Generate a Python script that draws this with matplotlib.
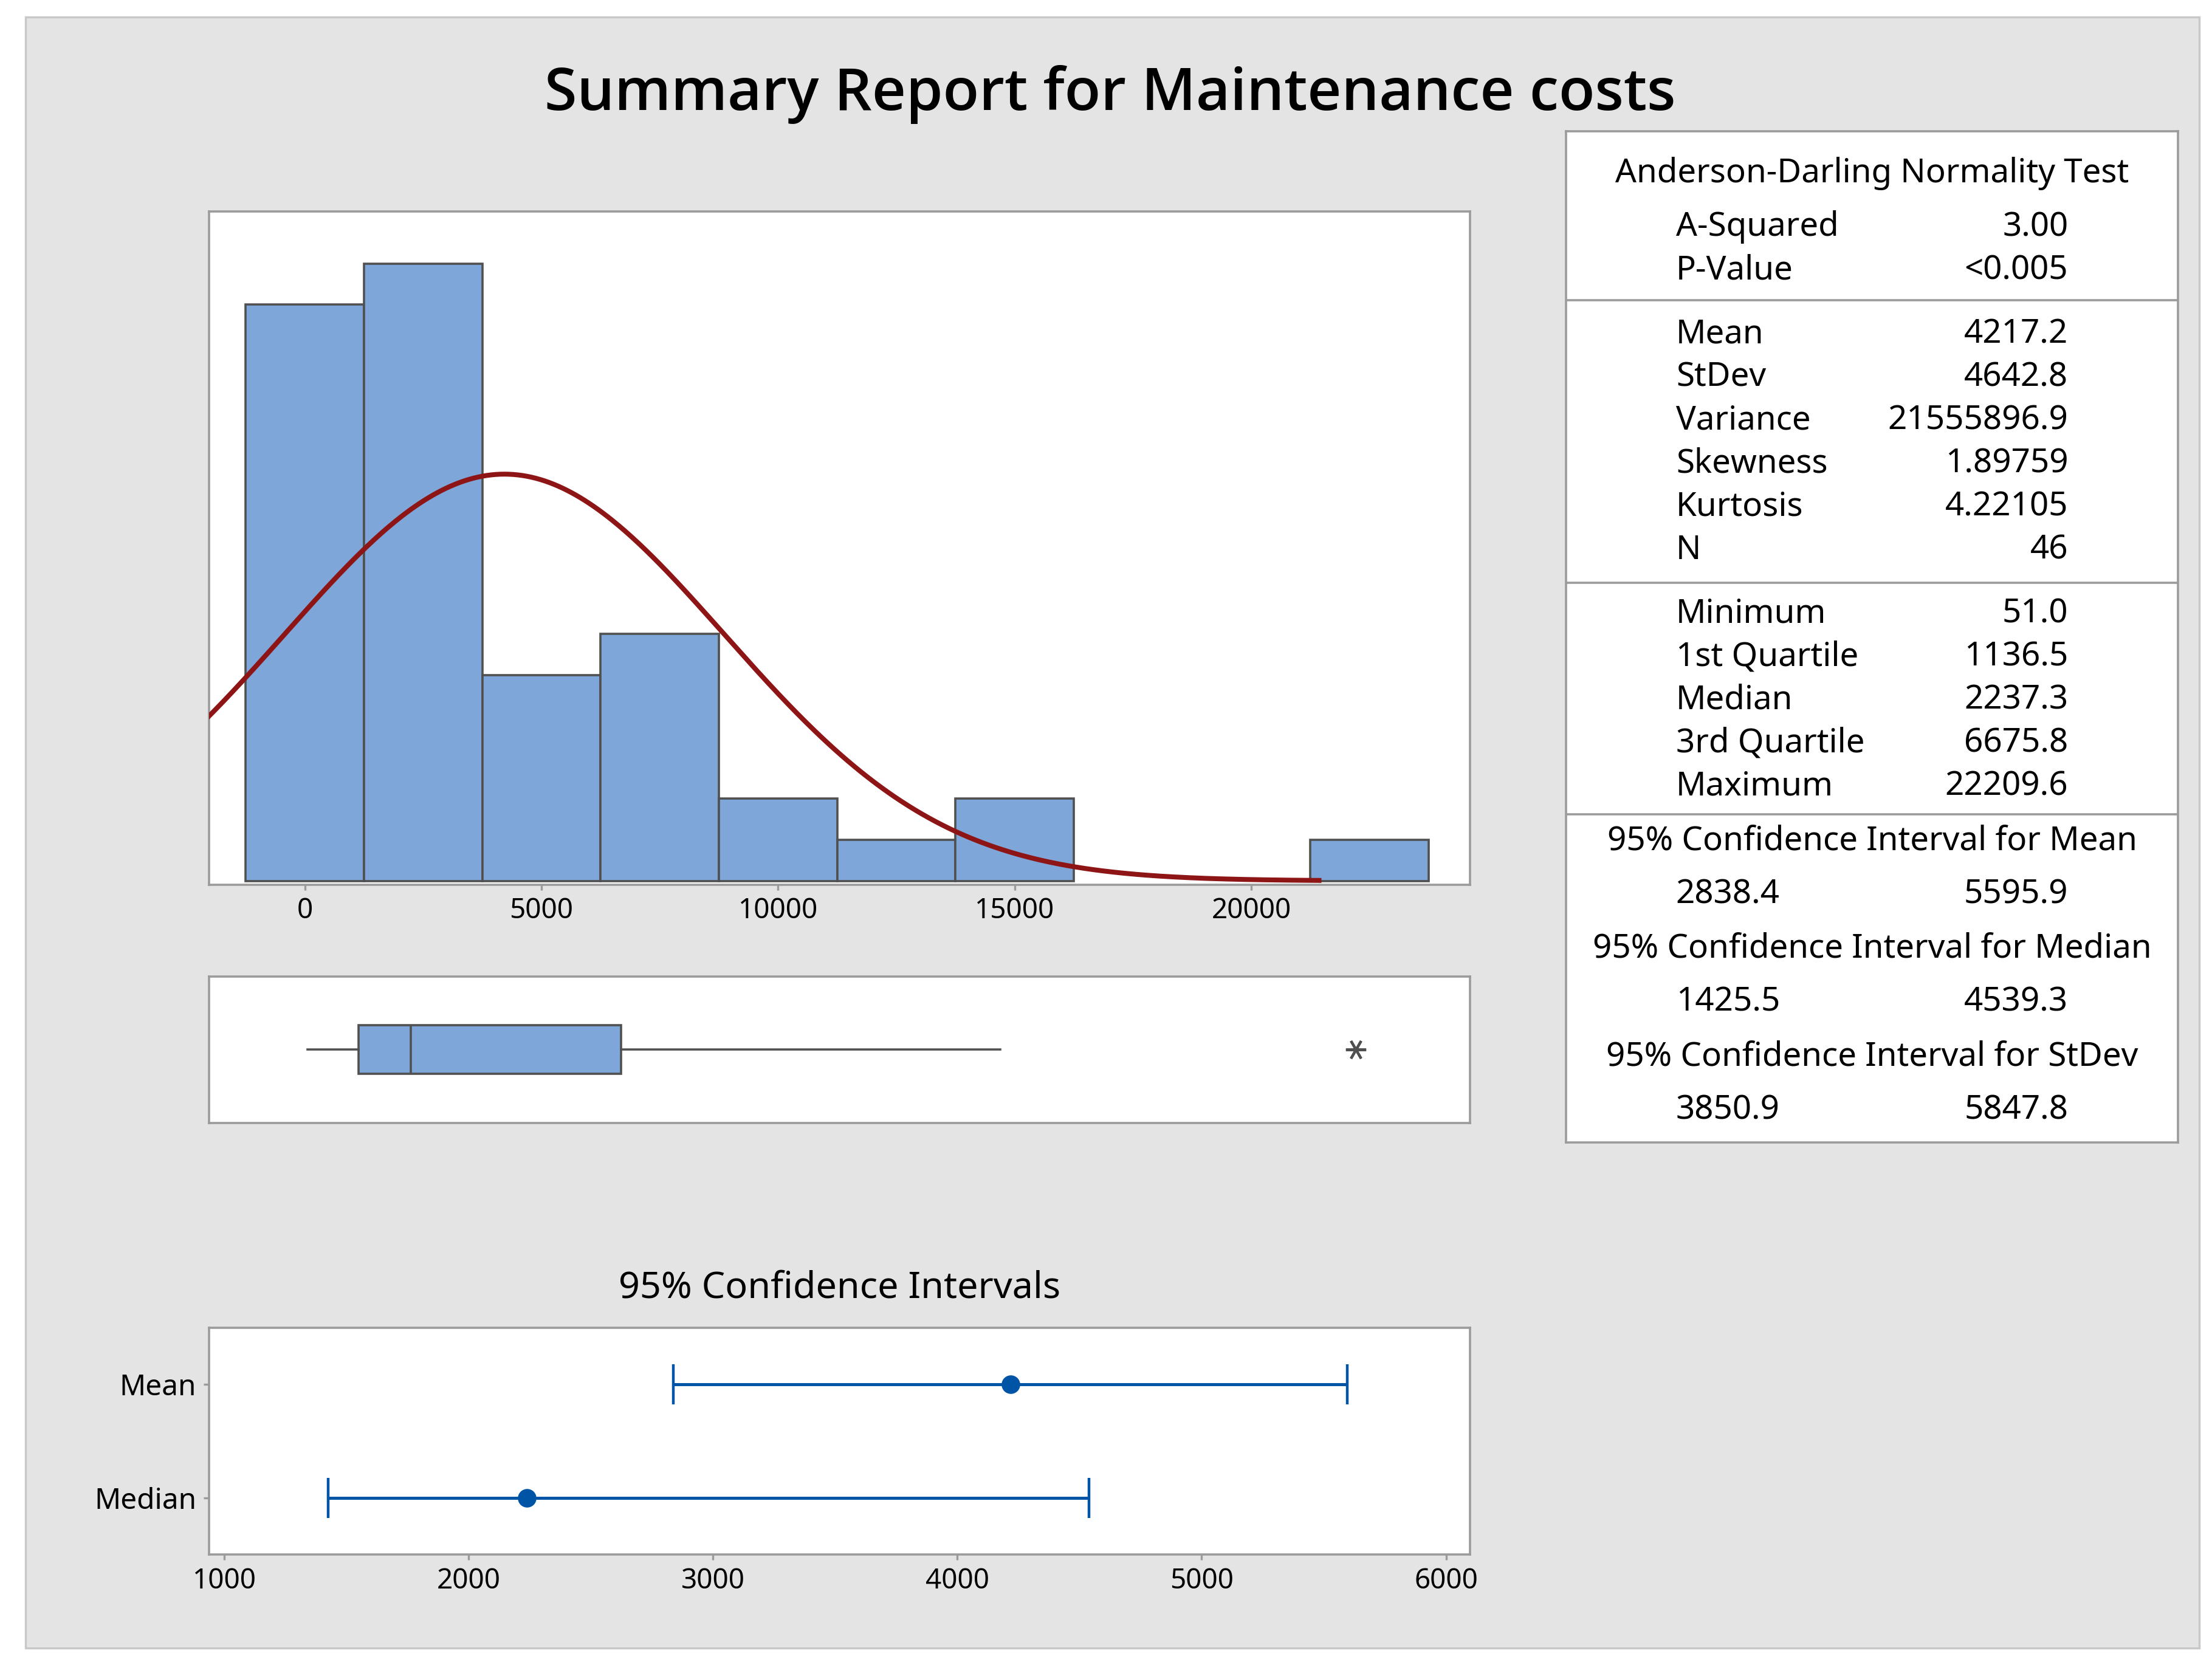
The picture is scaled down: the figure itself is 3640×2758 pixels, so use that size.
import matplotlib.pyplot as plt
import numpy as np
from matplotlib.patches import Rectangle

plt.rcParams['font.family'] = ['Noto Sans', 'DejaVu Sans']

# Data ##############################################################################

bin_centers = [0, 2500, 5000, 7500, 10000, 12500, 15000, 17500, 20000, 22500]
bin_counts = [14, 15, 5, 6, 2, 1, 2, 0, 0, 1]
bin_width = 2500
hist_ticks = [0, 5000, 10000, 15000, 20000]

mean, stdev, n = 4217.2, 4642.8, 46
minimum, q1, median, q3, maximum = 51.0, 1136.5, 2237.3, 6675.8, 22209.6
upper_whisker = 14700

ci_labels = ['Median', 'Mean']
ci_centers = [median, mean]
ci_low = [1425.5, 2838.4]
ci_high = [4539.3, 5595.9]
ci_ticks = [1000, 2000, 3000, 4000, 5000, 6000]

ad_title = 'Anderson-Darling Normality Test'
ad_rows = [('A-Squared', '3.00'), ('P-Value', '<0.005')]
moment_rows = [('Mean', '4217.2'), ('StDev', '4642.8'), ('Variance', '21555896.9'),
               ('Skewness', '1.89759'), ('Kurtosis', '4.22105'), ('N', '46')]
quantile_rows = [('Minimum', '51.0'), ('1st Quartile', '1136.5'), ('Median', '2237.3'),
                 ('3rd Quartile', '6675.8'), ('Maximum', '22209.6')]
ci_rows = [('95% Confidence Interval for Mean', '2838.4', '5595.9'),
           ('95% Confidence Interval for Median', '1425.5', '4539.3'),
           ('95% Confidence Interval for StDev', '3850.9', '5847.8')]

# Layout (positions in a 1568 x 1188 reference frame) ################################

RW, RH = 1568.0, 1188.0
SPINE = '#9B9B9B'
BAR = '#7EA6D8'
EDGE = '#505050'
BLUE = '#0054A6'
CURVE = '#8E1515'


def rect(left, top, right, bottom):
    return [left / RW, 1 - bottom / RH, (right - left) / RW, (bottom - top) / RH]


def style_spines(ax):
    for s in ax.spines.values():
        s.set_color(SPINE)
        s.set_linewidth(1.3)


fig = plt.figure(figsize=(18.2, 13.79), dpi=200, facecolor='white')

# grey panel behind everything
fig.patches.append(Rectangle((18 / RW, 1 - 1168 / RH), (1559 - 18) / RW, (1168 - 12) / RH,
                             transform=fig.transFigure, facecolor='#E4E4E4',
                             edgecolor='#C8C8C8', linewidth=1.2, zorder=-10))

fig.text(787 / RW, 1 - 78 / RH, 'Summary Report for Maintenance costs',
         ha='center', va='baseline', fontsize=35, fontweight='semibold',
         family=['Open Sans', 'Noto Sans', 'DejaVu Sans'])

# Histogram #########################################################################

ax_h = fig.add_axes(rect(148, 150, 1042, 627))
x = [c for c, k in zip(bin_centers, bin_counts) if k > 0]
h = [k for k in bin_counts if k > 0]
ax_h.bar(x, h, width=bin_width, color=BAR, edgecolor=EDGE, linewidth=1.3, zorder=2)

xs = np.linspace(-2100, 21430, 500)
ys = n * bin_width * np.exp(-0.5 * ((xs - mean) / stdev) ** 2) / (stdev * np.sqrt(2 * np.pi))
ax_h.plot(xs, ys, color=CURVE, linewidth=2.9, zorder=3)

ax_h.set_xlim(-2030, 24620)
ax_h.set_ylim(-0.09, 16.26)
ax_h.set_xticks(hist_ticks)
ax_h.set_yticks([])
ax_h.tick_params(axis='x', length=3.3, width=1.2, color=SPINE, pad=4, labelsize=16.5)
style_spines(ax_h)

# Boxplot ###########################################################################

ax_b = fig.add_axes(rect(148, 692, 1042, 796))
stats = [dict(med=median, q1=q1, q3=q3, whislo=minimum, whishi=upper_whisker,
              fliers=[maximum])]
ax_b.bxp(stats, positions=[0.5], widths=0.33, orientation='horizontal',
         showcaps=False, patch_artist=True,
         boxprops=dict(facecolor=BAR, edgecolor=EDGE, linewidth=1.3),
         medianprops=dict(color=EDGE, linewidth=1.3),
         whiskerprops=dict(color=EDGE, linewidth=1.3),
         flierprops=dict(marker=(6, 2, 90), markersize=12, markeredgecolor=EDGE,
                         markeredgewidth=1.5, color=EDGE))
ax_b.set_xlim(-2030, 24620)
ax_b.set_ylim(0, 1)
ax_b.set_xticks([])
ax_b.set_yticks([])
style_spines(ax_b)

# Confidence intervals ##############################################################

fig.text(595 / RW, 1 - 913 / RH, '95% Confidence Intervals', ha='center', va='center',
         fontsize=22)

ax_c = fig.add_axes(rect(148, 941, 1042, 1102))
ypos = np.arange(len(ci_labels))
err = [np.array(ci_centers) - np.array(ci_low), np.array(ci_high) - np.array(ci_centers)]
ax_c.errorbar(ci_centers, ypos, xerr=err, fmt='o', color=BLUE, markersize=10,
              elinewidth=1.8, capsize=12, capthick=1.6)
ax_c.set_xlim(936, 6098)
ax_c.set_ylim(-0.5, 1.5)
ax_c.set_xticks(ci_ticks)
ax_c.set_yticks(ypos)
ax_c.set_yticklabels(ci_labels)
ax_c.tick_params(length=3.3, width=1.2, color=SPINE, pad=4, labelsize=16.5)
ax_c.tick_params(axis='y', labelsize=17.2)
style_spines(ax_c)

# Summary table #####################################################################

ax_t = fig.add_axes(rect(1110, 93, 1544, 810))
ax_t.set_xlim(1110, 1544)
ax_t.set_ylim(810, 93)
ax_t.set_xticks([])
ax_t.set_yticks([])
style_spines(ax_t)

fs = 19.7
label_x, value_x, head_x = 1188, 1466, 1327
step = 30.6

ax_t.text(head_x, 123, ad_title, ha='center', va='center', fontsize=fs)
for i, (lab, val) in enumerate(ad_rows):
    y = 161 + i * step
    ax_t.text(label_x, y, lab, ha='left', va='center', fontsize=fs)
    ax_t.text(value_x, y, val, ha='right', va='center', fontsize=fs)
ax_t.axhline(213, color=SPINE, linewidth=1.3)

for i, (lab, val) in enumerate(moment_rows):
    y = 237 + i * step
    ax_t.text(label_x, y, lab, ha='left', va='center', fontsize=fs)
    ax_t.text(value_x, y, val, ha='right', va='center', fontsize=fs)
ax_t.axhline(413, color=SPINE, linewidth=1.3)

for i, (lab, val) in enumerate(quantile_rows):
    y = 435 + i * step
    ax_t.text(label_x, y, lab, ha='left', va='center', fontsize=fs)
    ax_t.text(value_x, y, val, ha='right', va='center', fontsize=fs)
ax_t.axhline(577, color=SPINE, linewidth=1.3)

for i, (head, lo, hi) in enumerate(ci_rows):
    y = 596 + i * 76.5
    ax_t.text(head_x, y, head, ha='center', va='center', fontsize=fs)
    ax_t.text(label_x, y + 38, lo, ha='left', va='center', fontsize=fs)
    ax_t.text(value_x, y + 38, hi, ha='right', va='center', fontsize=fs)

fig.savefig('out.png', dpi=200, facecolor='white')
